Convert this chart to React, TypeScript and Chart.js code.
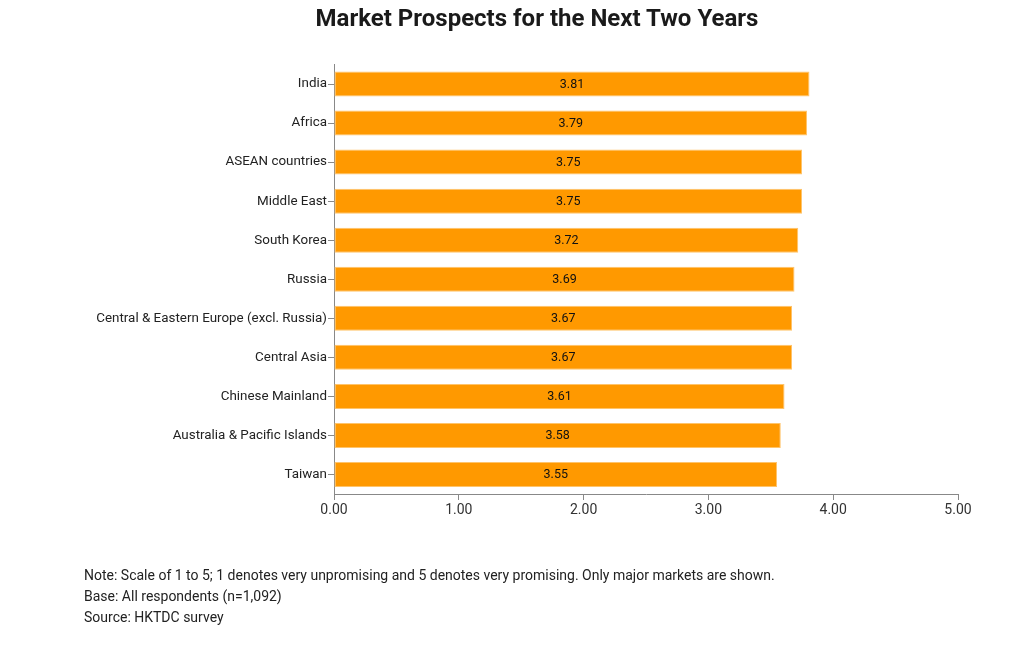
import React, { useEffect, useRef } from "react";
import { Chart, registerables } from "chart.js";

Chart.register(...registerables);

const categories = [
  "India",
  "Africa",
  "ASEAN countries",
  "Middle East",
  "South Korea",
  "Russia",
  "Central & Eastern Europe (excl. Russia)",
  "Central Asia",
  "Chinese Mainland",
  "Australia & Pacific Islands",
  "Taiwan",
];
const values = [3.81, 3.79, 3.75, 3.75, 3.72, 3.69, 3.67, 3.67, 3.61, 3.58, 3.55];
const xTicks = [0, 1, 2, 3, 4, 5];
const titleText = "Market Prospects for the Next Two Years";
const notes = [
  "Note: Scale of 1 to 5; 1 denotes very unpromising and 5 denotes very promising. Only major markets are shown.",
  "Base: All respondents (n=1,092)",
  "Source: HKTDC survey",
];

const FONT = "Roboto, 'Noto Sans', sans-serif";
const W = 1005;
const H = 633;

const barLabels = {
  id: "barLabels",
  afterDatasetsDraw(chart: any) {
    const ctx = chart.ctx;
    const meta = chart.getDatasetMeta(0);
    ctx.save();
    ctx.font = `12.5px ${FONT}`;
    ctx.fillStyle = "#111";
    ctx.textAlign = "center";
    ctx.textBaseline = "middle";
    meta.data.forEach((el: any, i: number) => {
      const p = el.getCenterPoint();
      ctx.fillText(values[i].toFixed(2), p.x, p.y + 0.5);
    });
    ctx.restore();
  },
};

export default function App() {
  const ref = useRef<HTMLCanvasElement | null>(null);
  useEffect(() => {
    if (!ref.current) return;
    const chart = new Chart(ref.current, {
      type: "bar",
      data: {
        labels: categories,
        datasets: [
          {
            data: values,
            backgroundColor: "#ff9900",
            borderColor: "#ffc46b",
            borderWidth: 1,
            borderSkipped: false,
            categoryPercentage: 1,
            barPercentage: 0.64,
          },
        ],
      },
      options: {
        indexAxis: "y",
        animation: false,
        responsive: false,
        maintainAspectRatio: false,
        devicePixelRatio: 1,
        layout: { padding: { top: 56.5, right: 55, bottom: 0, left: 0 } },
        plugins: {
          legend: { display: false },
          title: { display: false },
          tooltip: { enabled: false },
        },
        scales: {
          x: {
            type: "linear",
            min: 0,
            max: 5,
            afterBuildTicks: (scale: any) => {
              scale.ticks = xTicks.map((v) => ({ value: v }));
            },
            afterFit: (scale: any) => {
              scale.height = 147;
            },
            grid: {
              display: true,
              drawOnChartArea: false,
              drawTicks: true,
              tickLength: 6,
              color: "#888",
              tickColor: "#888",
            },
            border: { display: true, color: "#888", width: 1 },
            ticks: {
              font: { family: FONT, size: 14 },
              color: "#333",
              padding: 2,
              callback: (v: any) => Number(v).toFixed(2),
            },
          },
          y: {
            afterFit: (scale: any) => {
              scale.width = 326;
            },
            grid: {
              display: true,
              drawOnChartArea: false,
              drawTicks: true,
              tickLength: 6,
              color: "#888",
              tickColor: "#888",
              offset: false,
            },
            border: { display: true, color: "#888", width: 1 },
            ticks: {
              font: { family: FONT, size: 13.4 },
              color: "#222",
              padding: 1,
            },
          },
        },
      },
      plugins: [barLabels],
    });
    return () => chart.destroy();
  }, []);

  return (
    <div style={{ position: "relative", width: W, height: H, fontFamily: FONT }}>
      <canvas ref={ref} width={W} height={H} style={{ position: "absolute", left: 0, top: 0, width: W, height: H }} />
      <div
        style={{
          position: "absolute",
          left: 0,
          width: 1058,
          top: -10,
          textAlign: "center",
          fontWeight: 700,
          fontSize: 24,
          lineHeight: "40px",
          color: "#1a1a1a",
          whiteSpace: "nowrap",
        }}
      >
        {titleText}
      </div>
      <div
        style={{
          position: "absolute",
          left: 76,
          top: 557,
          fontSize: 14,
          lineHeight: "21px",
          color: "#222",
        }}
      >
        {notes.map((n, i) => (
          <div key={i}>{n}</div>
        ))}
      </div>
    </div>
  );
}
